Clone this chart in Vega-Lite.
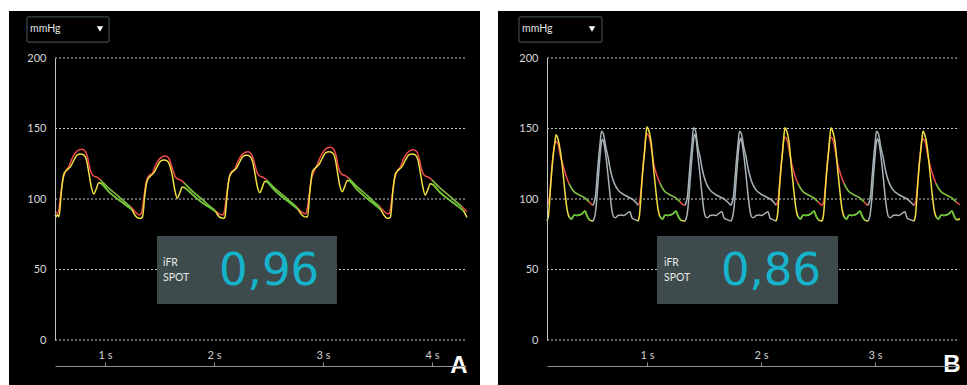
{
"$schema":"https://vega.github.io/schema/vega-lite/v6.json",
"background":"#ffffff",
"autosize":{"type":"pad"},
"padding":{"left":9,"top":11,"right":0,"bottom":0},
"spacing":18,
"config":{"view":{"stroke":null}},
"datasets":{
"a":[
{"g":"ap","c":"pa","t":0.5413,"v":91},{"g":"ap","c":"pa","t":0.5688,"v":90},{"g":"ap","c":"pa","t":0.5918,"v":101.7},{"g":"ap","c":"pa","t":0.6129,"v":113.5},{"g":"ap","c":"pa","t":0.6376,"v":119.4},{"g":"ap","c":"pa","t":0.6679,"v":123},{"g":"ap","c":"pa","t":0.6991,"v":128.9},{"g":"ap","c":"pa","t":0.7294,"v":132.8},{"g":"ap","c":"pa","t":0.7597,"v":134.8},{"g":"ap","c":"pa","t":0.7909,"v":135.3},{"g":"ap","c":"pa","t":0.8211,"v":133.5},{"g":"ap","c":"pa","t":0.8422,"v":128.9},{"g":"ap","c":"pa","t":0.8606,"v":121.8},{"g":"ap","c":"pa","t":0.8762,"v":118.2},{"g":"ap","c":"pa","t":0.8973,"v":116.3},{"g":"ap","c":"pa","t":0.9285,"v":115.4},{"g":"ap","c":"pa","t":0.9587,"v":113.5},{"g":"ap","c":"pa","t":1.0349,"v":107.6},{"g":"ap","c":"pa","t":1.1266,"v":101.7},{"g":"ap","c":"pa","t":1.1881,"v":97.4},{"g":"ap","c":"pa","t":1.2340,"v":94.5},{"g":"ap","c":"pa","t":1.2707,"v":91.5},{"g":"ap","c":"pa","t":1.3165,"v":88.6},
{"g":"ap","c":"pa","t":1.3348,"v":90},{"g":"ap","c":"pa","t":1.3578,"v":101.7},{"g":"ap","c":"pa","t":1.3789,"v":112.5},{"g":"ap","c":"pa","t":1.4036,"v":116.5},{"g":"ap","c":"pa","t":1.4339,"v":118.2},{"g":"ap","c":"pa","t":1.4651,"v":124.1},{"g":"ap","c":"pa","t":1.4954,"v":128},{"g":"ap","c":"pa","t":1.5257,"v":130},{"g":"ap","c":"pa","t":1.5569,"v":130.5},{"g":"ap","c":"pa","t":1.5871,"v":128.7},{"g":"ap","c":"pa","t":1.6082,"v":124.1},{"g":"ap","c":"pa","t":1.6266,"v":119.8},{"g":"ap","c":"pa","t":1.6422,"v":116.2},{"g":"ap","c":"pa","t":1.6633,"v":114.3},{"g":"ap","c":"pa","t":1.6945,"v":113.4},{"g":"ap","c":"pa","t":1.7247,"v":111.5},{"g":"ap","c":"pa","t":1.8009,"v":105.6},{"g":"ap","c":"pa","t":1.8926,"v":99.7},{"g":"ap","c":"pa","t":1.9541,"v":95.4},{"g":"ap","c":"pa","t":2.0000,"v":92.5},{"g":"ap","c":"pa","t":2.0367,"v":90},{"g":"ap","c":"pa","t":2.0825,"v":88.6},
{"g":"ap","c":"pa","t":2.0917,"v":90},{"g":"ap","c":"pa","t":2.1147,"v":101.7},{"g":"ap","c":"pa","t":2.1358,"v":113.5},{"g":"ap","c":"pa","t":2.1605,"v":119.4},{"g":"ap","c":"pa","t":2.1908,"v":121.2},{"g":"ap","c":"pa","t":2.2220,"v":127.1},{"g":"ap","c":"pa","t":2.2523,"v":131},{"g":"ap","c":"pa","t":2.2826,"v":133},{"g":"ap","c":"pa","t":2.3138,"v":133.5},{"g":"ap","c":"pa","t":2.3440,"v":131.7},{"g":"ap","c":"pa","t":2.3651,"v":127.1},{"g":"ap","c":"pa","t":2.3835,"v":121.8},{"g":"ap","c":"pa","t":2.3991,"v":118.2},{"g":"ap","c":"pa","t":2.4202,"v":116.3},{"g":"ap","c":"pa","t":2.4514,"v":115.4},{"g":"ap","c":"pa","t":2.4816,"v":113.5},{"g":"ap","c":"pa","t":2.5578,"v":107.6},{"g":"ap","c":"pa","t":2.6495,"v":101.7},{"g":"ap","c":"pa","t":2.7110,"v":97.4},{"g":"ap","c":"pa","t":2.7569,"v":94.5},{"g":"ap","c":"pa","t":2.7936,"v":91.5},{"g":"ap","c":"pa","t":2.8394,"v":89.5},
{"g":"ap","c":"pa","t":2.8486,"v":90.5},{"g":"ap","c":"pa","t":2.8716,"v":101.7},{"g":"ap","c":"pa","t":2.8927,"v":113.5},{"g":"ap","c":"pa","t":2.9174,"v":119.4},{"g":"ap","c":"pa","t":2.9477,"v":124.4},{"g":"ap","c":"pa","t":2.9789,"v":130.3},{"g":"ap","c":"pa","t":3.0092,"v":134.2},{"g":"ap","c":"pa","t":3.0395,"v":136.2},{"g":"ap","c":"pa","t":3.0707,"v":136.7},{"g":"ap","c":"pa","t":3.1009,"v":134.9},{"g":"ap","c":"pa","t":3.1220,"v":130.3},{"g":"ap","c":"pa","t":3.1404,"v":122.8},{"g":"ap","c":"pa","t":3.1560,"v":119.2},{"g":"ap","c":"pa","t":3.1771,"v":117.3},{"g":"ap","c":"pa","t":3.2083,"v":116.4},{"g":"ap","c":"pa","t":3.2385,"v":114.5},{"g":"ap","c":"pa","t":3.3147,"v":108.6},{"g":"ap","c":"pa","t":3.4064,"v":102.5},{"g":"ap","c":"pa","t":3.4679,"v":98},{"g":"ap","c":"pa","t":3.5138,"v":95},{"g":"ap","c":"pa","t":3.5505,"v":92},{"g":"ap","c":"pa","t":3.5963,"v":89.5},
{"g":"ap","c":"pa","t":3.6101,"v":90},{"g":"ap","c":"pa","t":3.6331,"v":101.7},{"g":"ap","c":"pa","t":3.6542,"v":113.5},{"g":"ap","c":"pa","t":3.6789,"v":119.4},{"g":"ap","c":"pa","t":3.7092,"v":122.7},{"g":"ap","c":"pa","t":3.7404,"v":128.6},{"g":"ap","c":"pa","t":3.7707,"v":132.5},{"g":"ap","c":"pa","t":3.8010,"v":134.5},{"g":"ap","c":"pa","t":3.8322,"v":135},{"g":"ap","c":"pa","t":3.8624,"v":133.2},{"g":"ap","c":"pa","t":3.8835,"v":128.6},{"g":"ap","c":"pa","t":3.9019,"v":121.8},{"g":"ap","c":"pa","t":3.9175,"v":118.2},{"g":"ap","c":"pa","t":3.9386,"v":116.3},{"g":"ap","c":"pa","t":3.9698,"v":115.4},{"g":"ap","c":"pa","t":4.0000,"v":113.5},{"g":"ap","c":"pa","t":4.0762,"v":107.6},{"g":"ap","c":"pa","t":4.1679,"v":101.7},{"g":"ap","c":"pa","t":4.2294,"v":97.4},{"g":"ap","c":"pa","t":4.2753,"v":94.5},{"g":"ap","c":"pa","t":4.3211,"v":91},
{"g":"ad","c":"pd","t":0.5413,"v":88.6},{"g":"ad","c":"pd","t":0.5505,"v":87.4},{"g":"ad","c":"pd","t":0.5642,"v":89},{"g":"ad","c":"pd","t":0.5780,"v":87.4},{"g":"ad","c":"pd","t":0.6009,"v":106.4},{"g":"ad","c":"pd","t":0.6239,"v":118},{"g":"ad","c":"pd","t":0.6514,"v":120.6},{"g":"ad","c":"pd","t":0.6835,"v":123},{"g":"ad","c":"pd","t":0.7156,"v":127.7},{"g":"ad","c":"pd","t":0.7432,"v":131.2},{"g":"ad","c":"pd","t":0.7753,"v":132},{"g":"ad","c":"pd","t":0.8074,"v":131.2},{"g":"ad","c":"pd","t":0.8303,"v":127.7},{"g":"ad","c":"pd","t":0.8532,"v":118},{"g":"ad","c":"pd","t":0.8743,"v":108.7},{"g":"ad","c":"pd","t":0.8973,"v":103.5},{"g":"ad","c":"pd","t":0.9184,"v":106.9},{"g":"ad","c":"pd","t":0.9432,"v":111.5},{"g":"ad","c":"pd","t":0.9661,"v":111},{"g":"ad","c":"pd","t":1.0349,"v":105.2},{"g":"ad","c":"pd","t":1.1266,"v":99.3},{"g":"ad","c":"pd","t":1.2028,"v":95},{"g":"ad","c":"pd","t":1.2487,"v":92.2},{"g":"ad","c":"pd","t":1.2798,"v":88},{"g":"ad","c":"pd","t":1.3037,"v":86.5},{"g":"ad","c":"pd","t":1.3257,"v":86.3},
{"g":"ad","c":"pd","t":1.3440,"v":87.4},{"g":"ad","c":"pd","t":1.3669,"v":104},{"g":"ad","c":"pd","t":1.3899,"v":113.7},{"g":"ad","c":"pd","t":1.4174,"v":116.3},{"g":"ad","c":"pd","t":1.4495,"v":118.7},{"g":"ad","c":"pd","t":1.4816,"v":123.4},{"g":"ad","c":"pd","t":1.5092,"v":126.9},{"g":"ad","c":"pd","t":1.5413,"v":127.7},{"g":"ad","c":"pd","t":1.5734,"v":126.9},{"g":"ad","c":"pd","t":1.5963,"v":123.4},{"g":"ad","c":"pd","t":1.6192,"v":116},{"g":"ad","c":"pd","t":1.6403,"v":106.5},{"g":"ad","c":"pd","t":1.6633,"v":100.5},{"g":"ad","c":"pd","t":1.6844,"v":103.9},{"g":"ad","c":"pd","t":1.7092,"v":108.5},{"g":"ad","c":"pd","t":1.7321,"v":108},{"g":"ad","c":"pd","t":1.8009,"v":103.2},{"g":"ad","c":"pd","t":1.8926,"v":97.3},{"g":"ad","c":"pd","t":1.9688,"v":93.5},{"g":"ad","c":"pd","t":2.0147,"v":91},{"g":"ad","c":"pd","t":2.0458,"v":87.5},{"g":"ad","c":"pd","t":2.0697,"v":86.5},{"g":"ad","c":"pd","t":2.0917,"v":86.3},
{"g":"ad","c":"pd","t":2.1009,"v":87.4},{"g":"ad","c":"pd","t":2.1238,"v":106.4},{"g":"ad","c":"pd","t":2.1468,"v":117},{"g":"ad","c":"pd","t":2.1743,"v":119.6},{"g":"ad","c":"pd","t":2.2064,"v":122},{"g":"ad","c":"pd","t":2.2385,"v":126.7},{"g":"ad","c":"pd","t":2.2661,"v":130.2},{"g":"ad","c":"pd","t":2.2982,"v":131},{"g":"ad","c":"pd","t":2.3303,"v":130.2},{"g":"ad","c":"pd","t":2.3532,"v":126.7},{"g":"ad","c":"pd","t":2.3761,"v":118},{"g":"ad","c":"pd","t":2.3972,"v":109},{"g":"ad","c":"pd","t":2.4202,"v":104.5},{"g":"ad","c":"pd","t":2.4413,"v":107.9},{"g":"ad","c":"pd","t":2.4661,"v":112.5},{"g":"ad","c":"pd","t":2.4890,"v":112},{"g":"ad","c":"pd","t":2.5578,"v":106},{"g":"ad","c":"pd","t":2.6495,"v":100},{"g":"ad","c":"pd","t":2.7257,"v":95.5},{"g":"ad","c":"pd","t":2.7716,"v":92.5},{"g":"ad","c":"pd","t":2.8027,"v":89},{"g":"ad","c":"pd","t":2.8266,"v":87.5},{"g":"ad","c":"pd","t":2.8486,"v":87.3},
{"g":"ad","c":"pd","t":2.8578,"v":87.4},{"g":"ad","c":"pd","t":2.8807,"v":106.4},{"g":"ad","c":"pd","t":2.9037,"v":119.5},{"g":"ad","c":"pd","t":2.9312,"v":122.1},{"g":"ad","c":"pd","t":2.9633,"v":124.5},{"g":"ad","c":"pd","t":2.9954,"v":129.2},{"g":"ad","c":"pd","t":3.0230,"v":132.7},{"g":"ad","c":"pd","t":3.0551,"v":133.5},{"g":"ad","c":"pd","t":3.0872,"v":132.7},{"g":"ad","c":"pd","t":3.1101,"v":129.2},{"g":"ad","c":"pd","t":3.1330,"v":119},{"g":"ad","c":"pd","t":3.1541,"v":109.5},{"g":"ad","c":"pd","t":3.1771,"v":105.2},{"g":"ad","c":"pd","t":3.1982,"v":108.6},{"g":"ad","c":"pd","t":3.2230,"v":113.2},{"g":"ad","c":"pd","t":3.2459,"v":112.7},{"g":"ad","c":"pd","t":3.3147,"v":106.5},{"g":"ad","c":"pd","t":3.4064,"v":100.3},{"g":"ad","c":"pd","t":3.4826,"v":95.5},{"g":"ad","c":"pd","t":3.5285,"v":92.5},{"g":"ad","c":"pd","t":3.5596,"v":88.5},{"g":"ad","c":"pd","t":3.5835,"v":86.5},{"g":"ad","c":"pd","t":3.6055,"v":86.3},
{"g":"ad","c":"pd","t":3.6193,"v":87.4},{"g":"ad","c":"pd","t":3.6422,"v":106.4},{"g":"ad","c":"pd","t":3.6652,"v":118},{"g":"ad","c":"pd","t":3.6927,"v":120.6},{"g":"ad","c":"pd","t":3.7248,"v":123},{"g":"ad","c":"pd","t":3.7569,"v":127.7},{"g":"ad","c":"pd","t":3.7845,"v":131.2},{"g":"ad","c":"pd","t":3.8166,"v":132},{"g":"ad","c":"pd","t":3.8487,"v":131.2},{"g":"ad","c":"pd","t":3.8716,"v":127.7},{"g":"ad","c":"pd","t":3.8945,"v":118},{"g":"ad","c":"pd","t":3.9156,"v":108.7},{"g":"ad","c":"pd","t":3.9386,"v":102.8},{"g":"ad","c":"pd","t":3.9597,"v":106.2},{"g":"ad","c":"pd","t":3.9845,"v":110.8},{"g":"ad","c":"pd","t":4.0074,"v":110.3},{"g":"ad","c":"pd","t":4.0762,"v":104.5},{"g":"ad","c":"pd","t":4.1679,"v":98.8},{"g":"ad","c":"pd","t":4.2441,"v":94.5},{"g":"ad","c":"pd","t":4.2900,"v":91.5},{"g":"ad","c":"pd","t":4.3211,"v":87}
],
"ag":[
{"g":"ap1","c":"wf","t":0.9587,"v":113.5},{"g":"ap1","c":"wf","t":1.0349,"v":107.6},{"g":"ap1","c":"wf","t":1.1266,"v":101.7},{"g":"ap1","c":"wf","t":1.1881,"v":97.4},{"g":"ap1","c":"wf","t":1.2340,"v":94.5},
{"g":"ap2","c":"wf","t":1.7247,"v":111.5},{"g":"ap2","c":"wf","t":1.8009,"v":105.6},{"g":"ap2","c":"wf","t":1.8926,"v":99.7},{"g":"ap2","c":"wf","t":1.9541,"v":95.4},{"g":"ap2","c":"wf","t":2.0000,"v":92.5},
{"g":"ap3","c":"wf","t":2.4816,"v":113.5},{"g":"ap3","c":"wf","t":2.5578,"v":107.6},{"g":"ap3","c":"wf","t":2.6495,"v":101.7},{"g":"ap3","c":"wf","t":2.7110,"v":97.4},{"g":"ap3","c":"wf","t":2.7569,"v":94.5},
{"g":"ap4","c":"wf","t":3.2385,"v":114.5},{"g":"ap4","c":"wf","t":3.3147,"v":108.6},{"g":"ap4","c":"wf","t":3.4064,"v":102.5},{"g":"ap4","c":"wf","t":3.4679,"v":98},{"g":"ap4","c":"wf","t":3.5138,"v":95},
{"g":"ap5","c":"wf","t":4.0000,"v":113.5},{"g":"ap5","c":"wf","t":4.0762,"v":107.6},{"g":"ap5","c":"wf","t":4.1679,"v":101.7},{"g":"ap5","c":"wf","t":4.2294,"v":97.4},{"g":"ap5","c":"wf","t":4.2753,"v":94.5},
{"g":"ad1","c":"wf","t":0.9661,"v":111},{"g":"ad1","c":"wf","t":1.0349,"v":105.2},{"g":"ad1","c":"wf","t":1.1266,"v":99.3},{"g":"ad1","c":"wf","t":1.2028,"v":95},{"g":"ad1","c":"wf","t":1.2487,"v":92.2},
{"g":"ad2","c":"wf","t":1.7321,"v":108},{"g":"ad2","c":"wf","t":1.8009,"v":103.2},{"g":"ad2","c":"wf","t":1.8926,"v":97.3},{"g":"ad2","c":"wf","t":1.9688,"v":93.5},{"g":"ad2","c":"wf","t":2.0147,"v":91},
{"g":"ad3","c":"wf","t":2.4890,"v":112},{"g":"ad3","c":"wf","t":2.5578,"v":106},{"g":"ad3","c":"wf","t":2.6495,"v":100},{"g":"ad3","c":"wf","t":2.7257,"v":95.5},{"g":"ad3","c":"wf","t":2.7716,"v":92.5},
{"g":"ad4","c":"wf","t":3.2459,"v":112.7},{"g":"ad4","c":"wf","t":3.3147,"v":106.5},{"g":"ad4","c":"wf","t":3.4064,"v":100.3},{"g":"ad4","c":"wf","t":3.4826,"v":95.5},{"g":"ad4","c":"wf","t":3.5285,"v":92.5},
{"g":"ad5","c":"wf","t":4.0074,"v":110.3},{"g":"ad5","c":"wf","t":4.0762,"v":104.5},{"g":"ad5","c":"wf","t":4.1679,"v":98.8},{"g":"ad5","c":"wf","t":4.2441,"v":94.5},{"g":"ad5","c":"wf","t":4.2900,"v":91.5}
],
"b":[
{"g":"b1u","c":"pa","t":0.1228,"v":95.5},{"g":"b1u","c":"pa","t":0.1404,"v":99},{"g":"b1u","c":"pa","t":0.1535,"v":110},{"g":"b1u","c":"pa","t":0.1640,"v":121},{"g":"b1u","c":"pa","t":0.1781,"v":132},{"g":"b1u","c":"pa","t":0.1974,"v":141},{"g":"b1u","c":"pa","t":0.2193,"v":139},{"g":"b1u","c":"pa","t":0.2412,"v":130},{"g":"b1u","c":"pa","t":0.2632,"v":124},{"g":"b1u","c":"pa","t":0.2895,"v":116.5},{"g":"b1u","c":"pa","t":0.3158,"v":111},{"g":"b1u","c":"pa","t":0.3509,"v":106},{"g":"b1u","c":"pa","t":0.4035,"v":103},{"g":"b1u","c":"pa","t":0.4561,"v":100.6},{"g":"b1u","c":"pa","t":0.4912,"v":98},{"g":"b1u","c":"pa","t":0.5132,"v":96.2},{"g":"b1u","c":"pa","t":0.5263,"v":95.5},
{"g":"b1l","c":"pd","t":0.1228,"v":84.3},{"g":"b1l","c":"pd","t":0.1360,"v":88.5},{"g":"b1l","c":"pd","t":0.1535,"v":108},{"g":"b1l","c":"pd","t":0.1667,"v":122},{"g":"b1l","c":"pd","t":0.1798,"v":133},{"g":"b1l","c":"pd","t":0.1930,"v":140.6},{"g":"b1l","c":"pd","t":0.2018,"v":145.6},{"g":"b1l","c":"pd","t":0.2193,"v":142.6},{"g":"b1l","c":"pd","t":0.2368,"v":135.6},{"g":"b1l","c":"pd","t":0.2588,"v":122},{"g":"b1l","c":"pd","t":0.2789,"v":106},{"g":"b1l","c":"pd","t":0.2982,"v":93},{"g":"b1l","c":"pd","t":0.3158,"v":87.5},{"g":"b1l","c":"pd","t":0.3377,"v":85.8},{"g":"b1l","c":"pd","t":0.3596,"v":88.5},{"g":"b1l","c":"pd","t":0.3860,"v":88.3},{"g":"b1l","c":"pd","t":0.4123,"v":88.8},{"g":"b1l","c":"pd","t":0.4342,"v":89.8},{"g":"b1l","c":"pd","t":0.4561,"v":91.5},{"g":"b1l","c":"pd","t":0.4737,"v":88},{"g":"b1l","c":"pd","t":0.4956,"v":85.2},{"g":"b1l","c":"pd","t":0.5263,"v":84.3},
{"g":"b2u","c":"gr","t":0.5263,"v":95.5},{"g":"b2u","c":"gr","t":0.5482,"v":102},{"g":"b2u","c":"gr","t":0.5614,"v":115},{"g":"b2u","c":"gr","t":0.5746,"v":128},{"g":"b2u","c":"gr","t":0.5877,"v":139},{"g":"b2u","c":"gr","t":0.6009,"v":148},{"g":"b2u","c":"gr","t":0.6184,"v":146},{"g":"b2u","c":"gr","t":0.6404,"v":136},{"g":"b2u","c":"gr","t":0.6579,"v":130},{"g":"b2u","c":"gr","t":0.6754,"v":122},{"g":"b2u","c":"gr","t":0.6930,"v":116},{"g":"b2u","c":"gr","t":0.7193,"v":110},{"g":"b2u","c":"gr","t":0.7456,"v":106.5},{"g":"b2u","c":"gr","t":0.7895,"v":103.5},{"g":"b2u","c":"gr","t":0.8333,"v":101.5},{"g":"b2u","c":"gr","t":0.8772,"v":99.5},{"g":"b2u","c":"gr","t":0.9035,"v":97.5},{"g":"b2u","c":"gr","t":0.9211,"v":95.5},
{"g":"b2l","c":"gr","t":0.5263,"v":84.3},{"g":"b2l","c":"gr","t":0.5439,"v":88.6},{"g":"b2l","c":"gr","t":0.5588,"v":99.2},{"g":"b2l","c":"gr","t":0.5702,"v":112},{"g":"b2l","c":"gr","t":0.5833,"v":126},{"g":"b2l","c":"gr","t":0.5965,"v":138},{"g":"b2l","c":"gr","t":0.6096,"v":142.3},{"g":"b2l","c":"gr","t":0.6228,"v":139.3},{"g":"b2l","c":"gr","t":0.6404,"v":130},{"g":"b2l","c":"gr","t":0.6579,"v":117},{"g":"b2l","c":"gr","t":0.6754,"v":103},{"g":"b2l","c":"gr","t":0.6930,"v":91.5},{"g":"b2l","c":"gr","t":0.7061,"v":87.5},{"g":"b2l","c":"gr","t":0.7237,"v":86.7},{"g":"b2l","c":"gr","t":0.7456,"v":88.3},{"g":"b2l","c":"gr","t":0.7719,"v":88.6},{"g":"b2l","c":"gr","t":0.7982,"v":88.3},{"g":"b2l","c":"gr","t":0.8246,"v":89.8},{"g":"b2l","c":"gr","t":0.8509,"v":91},{"g":"b2l","c":"gr","t":0.8684,"v":86.5},{"g":"b2l","c":"gr","t":0.8904,"v":85.5},{"g":"b2l","c":"gr","t":0.9211,"v":84.3},
{"g":"b3u","c":"pa","t":0.9211,"v":95.5},{"g":"b3u","c":"pa","t":0.9386,"v":99},{"g":"b3u","c":"pa","t":0.9518,"v":110},{"g":"b3u","c":"pa","t":0.9623,"v":121},{"g":"b3u","c":"pa","t":0.9763,"v":132},{"g":"b3u","c":"pa","t":0.9956,"v":146.3},{"g":"b3u","c":"pa","t":1.0175,"v":144.3},{"g":"b3u","c":"pa","t":1.0395,"v":135.3},{"g":"b3u","c":"pa","t":1.0614,"v":124},{"g":"b3u","c":"pa","t":1.0877,"v":116.5},{"g":"b3u","c":"pa","t":1.1140,"v":111},{"g":"b3u","c":"pa","t":1.1491,"v":106},{"g":"b3u","c":"pa","t":1.2018,"v":103},{"g":"b3u","c":"pa","t":1.2544,"v":100.6},{"g":"b3u","c":"pa","t":1.2895,"v":98},{"g":"b3u","c":"pa","t":1.3114,"v":96.2},{"g":"b3u","c":"pa","t":1.3333,"v":95.5},
{"g":"b3l","c":"pd","t":0.9211,"v":84.3},{"g":"b3l","c":"pd","t":0.9342,"v":88.5},{"g":"b3l","c":"pd","t":0.9518,"v":108},{"g":"b3l","c":"pd","t":0.9649,"v":122},{"g":"b3l","c":"pd","t":0.9781,"v":133},{"g":"b3l","c":"pd","t":0.9912,"v":146},{"g":"b3l","c":"pd","t":1.0,"v":151},{"g":"b3l","c":"pd","t":1.0175,"v":148},{"g":"b3l","c":"pd","t":1.0351,"v":141},{"g":"b3l","c":"pd","t":1.0570,"v":122},{"g":"b3l","c":"pd","t":1.0772,"v":106},{"g":"b3l","c":"pd","t":1.0965,"v":93},{"g":"b3l","c":"pd","t":1.1140,"v":87.5},{"g":"b3l","c":"pd","t":1.1360,"v":85.8},{"g":"b3l","c":"pd","t":1.1579,"v":88.5},{"g":"b3l","c":"pd","t":1.1842,"v":88.3},{"g":"b3l","c":"pd","t":1.2105,"v":88.8},{"g":"b3l","c":"pd","t":1.2325,"v":89.8},{"g":"b3l","c":"pd","t":1.2544,"v":91.5},{"g":"b3l","c":"pd","t":1.2719,"v":88},{"g":"b3l","c":"pd","t":1.2939,"v":85.2},{"g":"b3l","c":"pd","t":1.3333,"v":84.3},
{"g":"b4u","c":"gr","t":1.3333,"v":95.5},{"g":"b4u","c":"gr","t":1.3553,"v":102},{"g":"b4u","c":"gr","t":1.3684,"v":115},{"g":"b4u","c":"gr","t":1.3816,"v":128},{"g":"b4u","c":"gr","t":1.3947,"v":139},{"g":"b4u","c":"gr","t":1.4079,"v":150.5},{"g":"b4u","c":"gr","t":1.4254,"v":148.5},{"g":"b4u","c":"gr","t":1.4474,"v":136},{"g":"b4u","c":"gr","t":1.4649,"v":130},{"g":"b4u","c":"gr","t":1.4825,"v":122},{"g":"b4u","c":"gr","t":1.5,"v":116},{"g":"b4u","c":"gr","t":1.5263,"v":110},{"g":"b4u","c":"gr","t":1.5526,"v":106.5},{"g":"b4u","c":"gr","t":1.5965,"v":103.5},{"g":"b4u","c":"gr","t":1.6404,"v":101.5},{"g":"b4u","c":"gr","t":1.6842,"v":99.5},{"g":"b4u","c":"gr","t":1.7105,"v":97.5},{"g":"b4u","c":"gr","t":1.7368,"v":95.5},
{"g":"b4l","c":"gr","t":1.3333,"v":84.3},{"g":"b4l","c":"gr","t":1.3509,"v":88.6},{"g":"b4l","c":"gr","t":1.3658,"v":99.2},{"g":"b4l","c":"gr","t":1.3772,"v":112},{"g":"b4l","c":"gr","t":1.3904,"v":126},{"g":"b4l","c":"gr","t":1.4035,"v":138},{"g":"b4l","c":"gr","t":1.4167,"v":146},{"g":"b4l","c":"gr","t":1.4298,"v":143},{"g":"b4l","c":"gr","t":1.4474,"v":130},{"g":"b4l","c":"gr","t":1.4649,"v":117},{"g":"b4l","c":"gr","t":1.4825,"v":103},{"g":"b4l","c":"gr","t":1.5,"v":91.5},{"g":"b4l","c":"gr","t":1.5132,"v":87.5},{"g":"b4l","c":"gr","t":1.5307,"v":86.7},{"g":"b4l","c":"gr","t":1.5526,"v":88.3},{"g":"b4l","c":"gr","t":1.5789,"v":88.6},{"g":"b4l","c":"gr","t":1.6053,"v":88.3},{"g":"b4l","c":"gr","t":1.6316,"v":89.8},{"g":"b4l","c":"gr","t":1.6579,"v":91},{"g":"b4l","c":"gr","t":1.6754,"v":86.5},{"g":"b4l","c":"gr","t":1.6974,"v":85.5},{"g":"b4l","c":"gr","t":1.7368,"v":84.3},
{"g":"b5u","c":"gr","t":1.7368,"v":95.5},{"g":"b5u","c":"gr","t":1.7588,"v":102},{"g":"b5u","c":"gr","t":1.7719,"v":115},{"g":"b5u","c":"gr","t":1.7851,"v":128},{"g":"b5u","c":"gr","t":1.7982,"v":139},{"g":"b5u","c":"gr","t":1.8114,"v":148},{"g":"b5u","c":"gr","t":1.8289,"v":146},{"g":"b5u","c":"gr","t":1.8509,"v":136},{"g":"b5u","c":"gr","t":1.8684,"v":130},{"g":"b5u","c":"gr","t":1.8860,"v":122},{"g":"b5u","c":"gr","t":1.9035,"v":116},{"g":"b5u","c":"gr","t":1.9298,"v":110},{"g":"b5u","c":"gr","t":1.9561,"v":106.5},{"g":"b5u","c":"gr","t":2.0,"v":103.5},{"g":"b5u","c":"gr","t":2.0439,"v":101.5},{"g":"b5u","c":"gr","t":2.0877,"v":99.5},{"g":"b5u","c":"gr","t":2.1140,"v":97.5},{"g":"b5u","c":"gr","t":2.1316,"v":95.5},
{"g":"b5l","c":"gr","t":1.7368,"v":84.3},{"g":"b5l","c":"gr","t":1.7544,"v":88.6},{"g":"b5l","c":"gr","t":1.7693,"v":99.2},{"g":"b5l","c":"gr","t":1.7807,"v":112},{"g":"b5l","c":"gr","t":1.7939,"v":126},{"g":"b5l","c":"gr","t":1.8070,"v":138},{"g":"b5l","c":"gr","t":1.8202,"v":143},{"g":"b5l","c":"gr","t":1.8333,"v":140},{"g":"b5l","c":"gr","t":1.8509,"v":130},{"g":"b5l","c":"gr","t":1.8684,"v":117},{"g":"b5l","c":"gr","t":1.8860,"v":103},{"g":"b5l","c":"gr","t":1.9035,"v":91.5},{"g":"b5l","c":"gr","t":1.9167,"v":87.5},{"g":"b5l","c":"gr","t":1.9342,"v":86.7},{"g":"b5l","c":"gr","t":1.9561,"v":88.3},{"g":"b5l","c":"gr","t":1.9825,"v":88.6},{"g":"b5l","c":"gr","t":2.0088,"v":88.3},{"g":"b5l","c":"gr","t":2.0351,"v":89.8},{"g":"b5l","c":"gr","t":2.0614,"v":91},{"g":"b5l","c":"gr","t":2.0789,"v":86.5},{"g":"b5l","c":"gr","t":2.1009,"v":85.5},{"g":"b5l","c":"gr","t":2.1316,"v":84.3},
{"g":"b6u","c":"pa","t":2.1316,"v":95.5},{"g":"b6u","c":"pa","t":2.1491,"v":99},{"g":"b6u","c":"pa","t":2.1623,"v":110},{"g":"b6u","c":"pa","t":2.1728,"v":121},{"g":"b6u","c":"pa","t":2.1868,"v":132},{"g":"b6u","c":"pa","t":2.2061,"v":144},{"g":"b6u","c":"pa","t":2.2281,"v":142},{"g":"b6u","c":"pa","t":2.2500,"v":133},{"g":"b6u","c":"pa","t":2.2719,"v":124},{"g":"b6u","c":"pa","t":2.2982,"v":116.5},{"g":"b6u","c":"pa","t":2.3246,"v":111},{"g":"b6u","c":"pa","t":2.3596,"v":106},{"g":"b6u","c":"pa","t":2.4123,"v":103},{"g":"b6u","c":"pa","t":2.4649,"v":100.6},{"g":"b6u","c":"pa","t":2.5,"v":98},{"g":"b6u","c":"pa","t":2.5219,"v":96.2},{"g":"b6u","c":"pa","t":2.5351,"v":95.5},
{"g":"b6l","c":"pd","t":2.1316,"v":84.3},{"g":"b6l","c":"pd","t":2.1447,"v":88.5},{"g":"b6l","c":"pd","t":2.1623,"v":108},{"g":"b6l","c":"pd","t":2.1754,"v":122},{"g":"b6l","c":"pd","t":2.1886,"v":133},{"g":"b6l","c":"pd","t":2.2018,"v":145.5},{"g":"b6l","c":"pd","t":2.2105,"v":150.5},{"g":"b6l","c":"pd","t":2.2281,"v":147.5},{"g":"b6l","c":"pd","t":2.2456,"v":140.5},{"g":"b6l","c":"pd","t":2.2675,"v":122},{"g":"b6l","c":"pd","t":2.2877,"v":106},{"g":"b6l","c":"pd","t":2.3070,"v":93},{"g":"b6l","c":"pd","t":2.3246,"v":87.5},{"g":"b6l","c":"pd","t":2.3465,"v":85.8},{"g":"b6l","c":"pd","t":2.3684,"v":88.5},{"g":"b6l","c":"pd","t":2.3947,"v":88.3},{"g":"b6l","c":"pd","t":2.4211,"v":88.8},{"g":"b6l","c":"pd","t":2.4430,"v":89.8},{"g":"b6l","c":"pd","t":2.4649,"v":91.5},{"g":"b6l","c":"pd","t":2.4825,"v":88},{"g":"b6l","c":"pd","t":2.5044,"v":85.2},{"g":"b6l","c":"pd","t":2.5351,"v":84.3},
{"g":"b7u","c":"pa","t":2.5351,"v":95.5},{"g":"b7u","c":"pa","t":2.5526,"v":99},{"g":"b7u","c":"pa","t":2.5658,"v":110},{"g":"b7u","c":"pa","t":2.5763,"v":121},{"g":"b7u","c":"pa","t":2.5904,"v":132},{"g":"b7u","c":"pa","t":2.6096,"v":144},{"g":"b7u","c":"pa","t":2.6316,"v":142},{"g":"b7u","c":"pa","t":2.6535,"v":133},{"g":"b7u","c":"pa","t":2.6754,"v":124},{"g":"b7u","c":"pa","t":2.7018,"v":116.5},{"g":"b7u","c":"pa","t":2.7281,"v":111},{"g":"b7u","c":"pa","t":2.7632,"v":106},{"g":"b7u","c":"pa","t":2.8158,"v":103},{"g":"b7u","c":"pa","t":2.8684,"v":100.6},{"g":"b7u","c":"pa","t":2.9035,"v":98},{"g":"b7u","c":"pa","t":2.9254,"v":96.2},{"g":"b7u","c":"pa","t":2.9386,"v":95.5},
{"g":"b7l","c":"pd","t":2.5351,"v":84.3},{"g":"b7l","c":"pd","t":2.5482,"v":88.5},{"g":"b7l","c":"pd","t":2.5658,"v":108},{"g":"b7l","c":"pd","t":2.5789,"v":122},{"g":"b7l","c":"pd","t":2.5921,"v":133},{"g":"b7l","c":"pd","t":2.6053,"v":145.3},{"g":"b7l","c":"pd","t":2.6140,"v":150.3},{"g":"b7l","c":"pd","t":2.6316,"v":147.3},{"g":"b7l","c":"pd","t":2.6491,"v":140.3},{"g":"b7l","c":"pd","t":2.6711,"v":122},{"g":"b7l","c":"pd","t":2.6912,"v":106},{"g":"b7l","c":"pd","t":2.7105,"v":93},{"g":"b7l","c":"pd","t":2.7281,"v":87.5},{"g":"b7l","c":"pd","t":2.7500,"v":85.8},{"g":"b7l","c":"pd","t":2.7719,"v":88.5},{"g":"b7l","c":"pd","t":2.7982,"v":88.3},{"g":"b7l","c":"pd","t":2.8246,"v":88.8},{"g":"b7l","c":"pd","t":2.8465,"v":89.8},{"g":"b7l","c":"pd","t":2.8684,"v":91.5},{"g":"b7l","c":"pd","t":2.8860,"v":88},{"g":"b7l","c":"pd","t":2.9079,"v":85.2},{"g":"b7l","c":"pd","t":2.9386,"v":84.3},
{"g":"b8u","c":"gr","t":2.9386,"v":95.5},{"g":"b8u","c":"gr","t":2.9605,"v":102},{"g":"b8u","c":"gr","t":2.9737,"v":115},{"g":"b8u","c":"gr","t":2.9868,"v":128},{"g":"b8u","c":"gr","t":3.0,"v":139},{"g":"b8u","c":"gr","t":3.0132,"v":148},{"g":"b8u","c":"gr","t":3.0307,"v":146},{"g":"b8u","c":"gr","t":3.0526,"v":136},{"g":"b8u","c":"gr","t":3.0702,"v":130},{"g":"b8u","c":"gr","t":3.0877,"v":122},{"g":"b8u","c":"gr","t":3.1053,"v":116},{"g":"b8u","c":"gr","t":3.1316,"v":110},{"g":"b8u","c":"gr","t":3.1579,"v":106.5},{"g":"b8u","c":"gr","t":3.2018,"v":103.5},{"g":"b8u","c":"gr","t":3.2456,"v":101.5},{"g":"b8u","c":"gr","t":3.2895,"v":99.5},{"g":"b8u","c":"gr","t":3.3158,"v":97.5},{"g":"b8u","c":"gr","t":3.3421,"v":95.5},
{"g":"b8l","c":"gr","t":2.9386,"v":84.3},{"g":"b8l","c":"gr","t":2.9561,"v":88.6},{"g":"b8l","c":"gr","t":2.9711,"v":99.2},{"g":"b8l","c":"gr","t":2.9825,"v":112},{"g":"b8l","c":"gr","t":2.9956,"v":126},{"g":"b8l","c":"gr","t":3.0088,"v":138},{"g":"b8l","c":"gr","t":3.0219,"v":142.8},{"g":"b8l","c":"gr","t":3.0351,"v":139.8},{"g":"b8l","c":"gr","t":3.0526,"v":130},{"g":"b8l","c":"gr","t":3.0702,"v":117},{"g":"b8l","c":"gr","t":3.0877,"v":103},{"g":"b8l","c":"gr","t":3.1053,"v":91.5},{"g":"b8l","c":"gr","t":3.1184,"v":87.5},{"g":"b8l","c":"gr","t":3.1360,"v":86.7},{"g":"b8l","c":"gr","t":3.1579,"v":88.3},{"g":"b8l","c":"gr","t":3.1842,"v":88.6},{"g":"b8l","c":"gr","t":3.2105,"v":88.3},{"g":"b8l","c":"gr","t":3.2368,"v":89.8},{"g":"b8l","c":"gr","t":3.2632,"v":91},{"g":"b8l","c":"gr","t":3.2807,"v":86.5},{"g":"b8l","c":"gr","t":3.3026,"v":85.5},{"g":"b8l","c":"gr","t":3.3421,"v":84.3},
{"g":"b9u","c":"pa","t":3.3421,"v":95.5},{"g":"b9u","c":"pa","t":3.3596,"v":99},{"g":"b9u","c":"pa","t":3.3728,"v":110},{"g":"b9u","c":"pa","t":3.3833,"v":121},{"g":"b9u","c":"pa","t":3.3974,"v":132},{"g":"b9u","c":"pa","t":3.4167,"v":142.8},{"g":"b9u","c":"pa","t":3.4386,"v":140.8},{"g":"b9u","c":"pa","t":3.4605,"v":131.8},{"g":"b9u","c":"pa","t":3.4825,"v":124},{"g":"b9u","c":"pa","t":3.5088,"v":116.5},{"g":"b9u","c":"pa","t":3.5351,"v":111},{"g":"b9u","c":"pa","t":3.5702,"v":106},{"g":"b9u","c":"pa","t":3.6228,"v":103},{"g":"b9u","c":"pa","t":3.6754,"v":100.6},{"g":"b9u","c":"pa","t":3.7105,"v":98},{"g":"b9u","c":"pa","t":3.7325,"v":96.5},{"g":"b9u","c":"pa","t":3.7456,"v":96},
{"g":"b9l","c":"pd","t":3.3421,"v":84.3},{"g":"b9l","c":"pd","t":3.3553,"v":88.5},{"g":"b9l","c":"pd","t":3.3728,"v":108},{"g":"b9l","c":"pd","t":3.3860,"v":122},{"g":"b9l","c":"pd","t":3.3991,"v":133},{"g":"b9l","c":"pd","t":3.4123,"v":143},{"g":"b9l","c":"pd","t":3.4211,"v":148},{"g":"b9l","c":"pd","t":3.4386,"v":145},{"g":"b9l","c":"pd","t":3.4561,"v":138},{"g":"b9l","c":"pd","t":3.4781,"v":122},{"g":"b9l","c":"pd","t":3.4982,"v":106},{"g":"b9l","c":"pd","t":3.5175,"v":93},{"g":"b9l","c":"pd","t":3.5351,"v":87.5},{"g":"b9l","c":"pd","t":3.5570,"v":85.8},{"g":"b9l","c":"pd","t":3.5789,"v":88.5},{"g":"b9l","c":"pd","t":3.6053,"v":88.3},{"g":"b9l","c":"pd","t":3.6316,"v":88.8},{"g":"b9l","c":"pd","t":3.6535,"v":89.8},{"g":"b9l","c":"pd","t":3.6754,"v":91.5},{"g":"b9l","c":"pd","t":3.6930,"v":88},{"g":"b9l","c":"pd","t":3.7149,"v":85.2},{"g":"b9l","c":"pd","t":3.7456,"v":86}
],
"bg":[
{"g":"b1ug","c":"wf","t":0.3158,"v":111},{"g":"b1ug","c":"wf","t":0.3509,"v":106},{"g":"b1ug","c":"wf","t":0.4035,"v":103},{"g":"b1ug","c":"wf","t":0.4561,"v":100.6},{"g":"b1ug","c":"wf","t":0.4912,"v":98},
{"g":"b1lg","c":"wf","t":0.3158,"v":87.5},{"g":"b1lg","c":"wf","t":0.3377,"v":85.8},{"g":"b1lg","c":"wf","t":0.3596,"v":88.5},{"g":"b1lg","c":"wf","t":0.3860,"v":88.3},{"g":"b1lg","c":"wf","t":0.4123,"v":88.8},{"g":"b1lg","c":"wf","t":0.4342,"v":89.8},{"g":"b1lg","c":"wf","t":0.4561,"v":91.5},{"g":"b1lg","c":"wf","t":0.4737,"v":88},{"g":"b1lg","c":"wf","t":0.4956,"v":85.2},
{"g":"b3ug","c":"wf","t":1.1140,"v":111},{"g":"b3ug","c":"wf","t":1.1491,"v":106},{"g":"b3ug","c":"wf","t":1.2018,"v":103},{"g":"b3ug","c":"wf","t":1.2544,"v":100.6},{"g":"b3ug","c":"wf","t":1.2895,"v":98},
{"g":"b3lg","c":"wf","t":1.1140,"v":87.5},{"g":"b3lg","c":"wf","t":1.1360,"v":85.8},{"g":"b3lg","c":"wf","t":1.1579,"v":88.5},{"g":"b3lg","c":"wf","t":1.1842,"v":88.3},{"g":"b3lg","c":"wf","t":1.2105,"v":88.8},{"g":"b3lg","c":"wf","t":1.2325,"v":89.8},{"g":"b3lg","c":"wf","t":1.2544,"v":91.5},{"g":"b3lg","c":"wf","t":1.2719,"v":88},{"g":"b3lg","c":"wf","t":1.2939,"v":85.2},
{"g":"b6ug","c":"wf","t":2.3246,"v":111},{"g":"b6ug","c":"wf","t":2.3596,"v":106},{"g":"b6ug","c":"wf","t":2.4123,"v":103},{"g":"b6ug","c":"wf","t":2.4649,"v":100.6},{"g":"b6ug","c":"wf","t":2.5,"v":98},
{"g":"b6lg","c":"wf","t":2.3246,"v":87.5},{"g":"b6lg","c":"wf","t":2.3465,"v":85.8},{"g":"b6lg","c":"wf","t":2.3684,"v":88.5},{"g":"b6lg","c":"wf","t":2.3947,"v":88.3},{"g":"b6lg","c":"wf","t":2.4211,"v":88.8},{"g":"b6lg","c":"wf","t":2.4430,"v":89.8},{"g":"b6lg","c":"wf","t":2.4649,"v":91.5},{"g":"b6lg","c":"wf","t":2.4825,"v":88},{"g":"b6lg","c":"wf","t":2.5044,"v":85.2},
{"g":"b7ug","c":"wf","t":2.7281,"v":111},{"g":"b7ug","c":"wf","t":2.7632,"v":106},{"g":"b7ug","c":"wf","t":2.8158,"v":103},{"g":"b7ug","c":"wf","t":2.8684,"v":100.6},{"g":"b7ug","c":"wf","t":2.9035,"v":98},
{"g":"b7lg","c":"wf","t":2.7281,"v":87.5},{"g":"b7lg","c":"wf","t":2.7500,"v":85.8},{"g":"b7lg","c":"wf","t":2.7719,"v":88.5},{"g":"b7lg","c":"wf","t":2.7982,"v":88.3},{"g":"b7lg","c":"wf","t":2.8246,"v":88.8},{"g":"b7lg","c":"wf","t":2.8465,"v":89.8},{"g":"b7lg","c":"wf","t":2.8684,"v":91.5},{"g":"b7lg","c":"wf","t":2.8860,"v":88},{"g":"b7lg","c":"wf","t":2.9079,"v":85.2},
{"g":"b9ug","c":"wf","t":3.5351,"v":111},{"g":"b9ug","c":"wf","t":3.5702,"v":106},{"g":"b9ug","c":"wf","t":3.6228,"v":103},{"g":"b9ug","c":"wf","t":3.6754,"v":100.6},{"g":"b9ug","c":"wf","t":3.7105,"v":98},
{"g":"b9lg","c":"wf","t":3.5351,"v":87.5},{"g":"b9lg","c":"wf","t":3.5570,"v":85.8},{"g":"b9lg","c":"wf","t":3.5789,"v":88.5},{"g":"b9lg","c":"wf","t":3.6053,"v":88.3},{"g":"b9lg","c":"wf","t":3.6316,"v":88.8},{"g":"b9lg","c":"wf","t":3.6535,"v":89.8},{"g":"b9lg","c":"wf","t":3.6754,"v":91.5},{"g":"b9lg","c":"wf","t":3.6930,"v":88},{"g":"b9lg","c":"wf","t":3.7149,"v":85.2}
]
},
"hconcat":[
{
"width":411,"height":282,
"encoding":{
"x":{"field":"t","type":"quantitative","scale":{"domain":[0.5413,4.312],"nice":false,"zero":false},"axis":{"orient":"top","offset":-308,"values":[1,2,3,4],"labelExpr":"datum.value + ' s'","title":null,"grid":false,"tickSize":4,"tickColor":"#8c9898","domainColor":"#8c9898","domainWidth":1.2,"labelColor":"#d0d0d0","labelFontSize":11,"labelFont":"Lato","labelPadding":2,"labelFlush":false,"zindex":1}},
"y":{"field":"v","type":"quantitative","scale":{"domain":[0,200],"nice":false,"zero":false},"axis":{"orient":"left","values":[0,50,100,150,200],"title":null,"grid":false,"ticks":false,"domainColor":"#c4c4c4","domainWidth":1,"labelColor":"#d8d8d8","labelFontSize":11,"labelFont":"Lato","labelPadding":9,"zindex":1}}
},
"layer":[
{"data":{"values":[{"t":0.1193,"t2":4.4404,"v":-31.9,"v2":233.3}]},"mark":{"type":"rect","fill":"#000000"},"encoding":{"x2":{"field":"t2"},"y2":{"field":"v2"}}},
{"data":{"values":[{"t":0.5413,"t2":4.312,"v":0},{"t":0.5413,"t2":4.312,"v":50},{"t":0.5413,"t2":4.312,"v":100},{"t":0.5413,"t2":4.312,"v":150},{"t":0.5413,"t2":4.312,"v":200}]},"mark":{"type":"rule","color":"#c8c8c8","strokeDash":[2,2],"strokeWidth":1},"encoding":{"x2":{"field":"t2"}}},
{"data":{"name":"a"},"mark":{"type":"line","strokeWidth":1.5,"interpolate":"monotone"},"encoding":{"detail":{"field":"g"},"color":{"field":"c","type":"nominal","scale":{"domain":["pa","pd","wf","gr"],"range":["#f04a4a","#f2e142","#5fc63a","#a9b4b8"]},"legend":null}}},
{"data":{"name":"ag"},"mark":{"type":"line","strokeWidth":1.5,"interpolate":"monotone"},"encoding":{"detail":{"field":"g"},"color":{"field":"c","type":"nominal","scale":{"domain":["pa","pd","wf","gr"],"range":["#f04a4a","#f2e142","#5fc63a","#a9b4b8"]},"legend":null}}},
{"data":{"values":[{"t":1.477,"t2":3.128,"v":25.5,"v2":73.8}]},"mark":{"type":"rect","fill":"#3d4b4d"},"encoding":{"x2":{"field":"t2"},"y2":{"field":"v2"}}},
{"data":{"values":[{"t":1.532,"v":54.6,"s":"iFR"},{"t":1.532,"v":44.0,"s":"SPOT"}]},"mark":{"type":"text","align":"left","baseline":"middle","fontSize":10.5,"font":"Lato","color":"#e6e6e6"},"encoding":{"text":{"field":"s"}}},
{"data":{"values":[{"t":2.505,"v":39.0,"s":"0,96"}]},"mark":{"type":"text","align":"center","baseline":"alphabetic","fontSize":45,"font":"DejaVu Sans","color":"#16b4cc"},"encoding":{"text":{"field":"s"}}},
{"data":{"values":[{"t":0.2844,"t2":1.0367,"v":211.3,"v2":229.1}]},"mark":{"type":"rect","fill":"#000000","stroke":"#3e4a4a","strokeWidth":1.2,"cornerRadius":2},"encoding":{"x2":{"field":"t2"},"y2":{"field":"v2"}}},
{"data":{"values":[{"t":0.312,"v":220.4,"s":"mmHg"}]},"mark":{"type":"text","align":"left","baseline":"middle","fontSize":10.5,"font":"Lato","color":"#e0e0e0"},"encoding":{"text":{"field":"s"}}},
{"data":{"values":[{"t":0.954,"v":220.6}]},"mark":{"type":"point","shape":"triangle-down","filled":true,"color":"#ffffff","size":40,"opacity":1}},
{"data":{"values":[{"t":4.2477,"v":-23.4,"s":"A"}]},"mark":{"type":"text","align":"center","baseline":"alphabetic","fontSize":24,"fontWeight":"bold","font":"Liberation Sans","color":"#ffffff"},"encoding":{"text":{"field":"s"}}}
]
},
{
"width":411,"height":282,
"encoding":{
"x":{"field":"t","type":"quantitative","scale":{"domain":[0.1228,3.728],"nice":false,"zero":false},"axis":{"orient":"top","offset":-308,"values":[1,2,3],"labelExpr":"datum.value + ' s'","title":null,"grid":false,"tickSize":4,"tickColor":"#8c9898","domainColor":"#8c9898","domainWidth":1.2,"labelColor":"#d0d0d0","labelFontSize":11,"labelFont":"Lato","labelPadding":2,"labelFlush":false,"zindex":1}},
"y":{"field":"v","type":"quantitative","scale":{"domain":[0,200],"nice":false,"zero":false},"axis":{"orient":"left","values":[0,50,100,150,200],"title":null,"grid":false,"ticks":false,"domainColor":"#c4c4c4","domainWidth":1,"labelColor":"#d8d8d8","labelFontSize":11,"labelFont":"Lato","labelPadding":9,"zindex":1}}
},
"layer":[
{"data":{"values":[{"t":-0.307,"t2":3.807,"v":-31.9,"v2":233.3}]},"mark":{"type":"rect","fill":"#000000"},"encoding":{"x2":{"field":"t2"},"y2":{"field":"v2"}}},
{"data":{"values":[{"t":0.1228,"t2":3.728,"v":0},{"t":0.1228,"t2":3.728,"v":50},{"t":0.1228,"t2":3.728,"v":100},{"t":0.1228,"t2":3.728,"v":150},{"t":0.1228,"t2":3.728,"v":200}]},"mark":{"type":"rule","color":"#c8c8c8","strokeDash":[2,2],"strokeWidth":1},"encoding":{"x2":{"field":"t2"}}},
{"data":{"name":"b"},"mark":{"type":"line","strokeWidth":1.5,"interpolate":"monotone"},"encoding":{"detail":{"field":"g"},"color":{"field":"c","type":"nominal","scale":{"domain":["pa","pd","wf","gr"],"range":["#f04a4a","#f2e142","#5fc63a","#a9b4b8"]},"legend":null}}},
{"data":{"name":"bg"},"mark":{"type":"line","strokeWidth":1.5,"interpolate":"monotone"},"encoding":{"detail":{"field":"g"},"color":{"field":"c","type":"nominal","scale":{"domain":["pa","pd","wf","gr"],"range":["#f04a4a","#f2e142","#5fc63a","#a9b4b8"]},"legend":null}}},
{"data":{"values":[{"t":1.0877,"t2":2.6754,"v":25.5,"v2":73.8}]},"mark":{"type":"rect","fill":"#3d4b4d"},"encoding":{"x2":{"field":"t2"},"y2":{"field":"v2"}}},
{"data":{"values":[{"t":1.149,"v":54.6,"s":"iFR"},{"t":1.149,"v":44.0,"s":"SPOT"}]},"mark":{"type":"text","align":"left","baseline":"middle","fontSize":10.5,"font":"Lato","color":"#e6e6e6"},"encoding":{"text":{"field":"s"}}},
{"data":{"values":[{"t":2.0877,"v":39.0,"s":"0,86"}]},"mark":{"type":"text","align":"center","baseline":"alphabetic","fontSize":45,"font":"DejaVu Sans","color":"#16b4cc"},"encoding":{"text":{"field":"s"}}},
{"data":{"values":[{"t":-0.1228,"t2":0.6053,"v":211.3,"v2":229.1}]},"mark":{"type":"rect","fill":"#000000","stroke":"#3e4a4a","strokeWidth":1.2,"cornerRadius":2},"encoding":{"x2":{"field":"t2"},"y2":{"field":"v2"}}},
{"data":{"values":[{"t":-0.0965,"v":220.4,"s":"mmHg"}]},"mark":{"type":"text","align":"left","baseline":"middle","fontSize":10.5,"font":"Lato","color":"#e0e0e0"},"encoding":{"text":{"field":"s"}}},
{"data":{"values":[{"t":0.5175,"v":220.6}]},"mark":{"type":"point","shape":"triangle-down","filled":true,"color":"#ffffff","size":40,"opacity":1}},
{"data":{"values":[{"t":3.6754,"v":-22.7,"s":"B"}]},"mark":{"type":"text","align":"center","baseline":"alphabetic","fontSize":24,"fontWeight":"bold","font":"Liberation Sans","color":"#ffffff"},"encoding":{"text":{"field":"s"}}}
]
}
]
}
